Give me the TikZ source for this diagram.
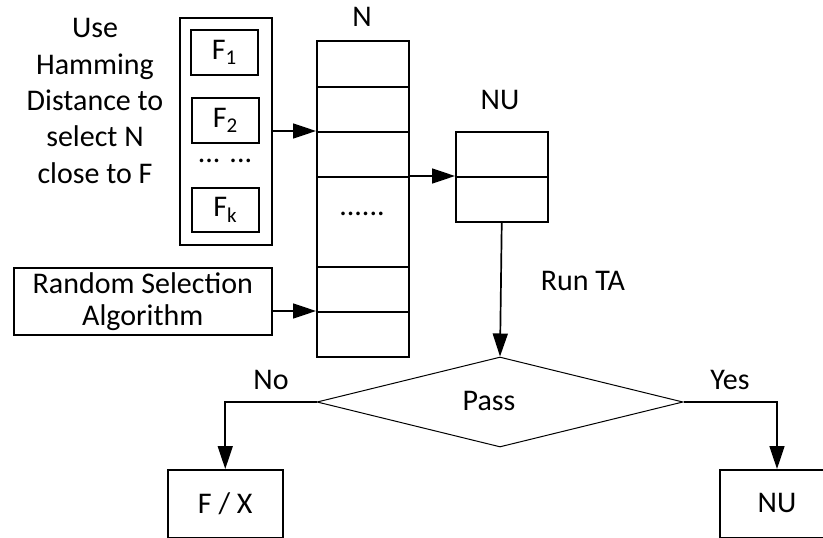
\documentclass[tikz,border=0pt]{standalone}
\usepackage{fontspec}
\setmainfont{Carlito}
\usetikzlibrary{arrows.meta,shapes.geometric,calc}

\tikzset{
  box/.style={draw, line width=1.5pt, rectangle, inner sep=0pt, anchor=north west},
  cell/.style={box, minimum width=92pt},
  lbl/.style={inner sep=0pt, font=\fontsize{30}{36.3}\selectfont, align=center},
  link/.style={line width=1.7pt, -{Triangle[length=23pt,width=15pt]}},
}

\begin{document}
\begin{tikzpicture}[x=1pt, y=-1pt]
  \clip (0,0) rectangle (823,538);
  \fill[white] (0,0) rectangle (823,538);

  % feature group with its description
  \node[lbl] (hd) at (95,101) {Use\\Hamming\\Distance to\\select N\\close to F};
  \node[box, minimum width=92pt, minimum height=227pt] (grp) at (179,17) {};
  \node[box, minimum width=67pt, minimum height=45pt] (f1) at (190,29) {};
  \node[box, minimum width=67pt, minimum height=45pt] (f2) at (191,97) {};
  \node[box, minimum width=67pt, minimum height=44pt] (fk) at (191,187) {};
  \node[lbl] (f1t) at (f1.center) {F\textsubscript{1}};
  \node[lbl] (f2t) at (f2.center) {F\textsubscript{2}};
  \node[lbl] (fkt) at (fk.center) {F\textsubscript{k}};
  \node[lbl] (fdots) at (225,161) {... ...};

  % random selection box
  \node[box, minimum width=258pt, minimum height=67pt] (rsa) at (13,267) {};
  \node[lbl, font=\fontsize{30}{32}\selectfont] (rsat) at (rsa.center) {Random Selection\\Algorithm};

  % column N
  \node[lbl] (nlab) at (362,17) {N};
  \node[cell, minimum height=46pt] (n1) at (316,40) {};
  \node[cell, minimum height=45pt] (n2) at (316,86) {};
  \node[cell, minimum height=45pt] (n3) at (316,131) {};
  \node[cell, minimum height=90pt] (n4) at (316,176) {};
  \node[cell, minimum height=45pt] (n5) at (316,266) {};
  \node[cell, minimum height=45pt] (n6) at (316,311) {};
  \node[lbl] (ndots) at (362,214) {......};

  % column NU
  \node[lbl] (nulab) at (500,100) {NU};
  \node[cell, minimum height=45pt] (nu1) at (455,131) {};
  \node[cell, minimum height=45pt] (nu2) at (455,176) {};

  % decision
  \node[draw, line width=1pt, diamond, aspect=4.05, minimum width=366pt, minimum height=90pt, inner sep=0pt] (pass) at (500,402) {};
  \node[lbl] (passt) at (489,401) {Pass};
  \node[lbl] (runta) at (583,281) {Run TA};

  % outcomes
  \node[box, minimum width=115pt, minimum height=68pt] (fx) at (167,469) {};
  \node[lbl] (fxt) at (fx.center) {F / X};
  \node[box, minimum width=116pt, minimum height=68pt] (nub) at (719,469) {};
  \node[lbl] (nubt) at (777,503) {NU};
  \node[lbl] (no) at (271,380) {No};
  \node[lbl] (yes) at (730,380) {Yes};

  % connectors
  \draw[link] (grp.east |- n3.north west) -- (n3.north west);
  \draw[link] (rsa.east |- n6.north west) -- (n6.north west);
  \draw[link] (n4.north east) -- (nu2.north west);
  \draw[link] (nu2.south) -- (pass.north);
  \draw[link] (pass.west) -| (fx.north);
  \draw[link] (pass.east) -| (nub.north -| nubt);
\end{tikzpicture}
\end{document}
